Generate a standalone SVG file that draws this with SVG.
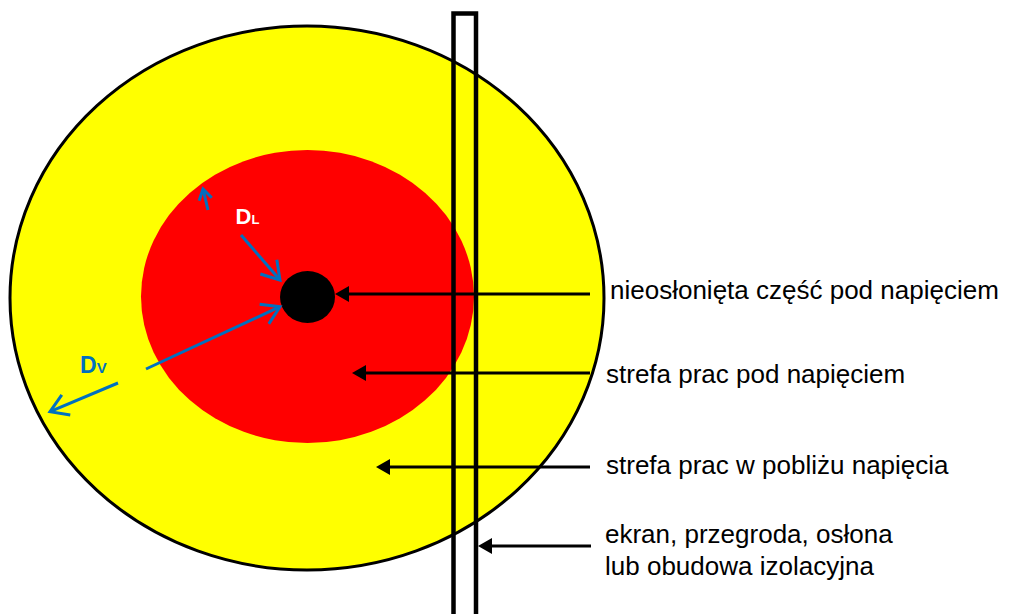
<svg xmlns="http://www.w3.org/2000/svg" width="1009" height="614" viewBox="0 0 1009 614">
  <style>
    .lbl { font-family: "Liberation Sans", Arial, sans-serif; font-size: 26px; fill: #000; }
    .sym { font-family: "Liberation Sans", Arial, sans-serif; font-weight: bold; }
    .blk { stroke: #000; stroke-width: 3; fill: none; marker-end: url(#ahBlack); }
    .blu { stroke: #0070C0; stroke-width: 3; fill: none; marker-end: url(#ahBlue); }
  </style>
  <defs>
    <marker id="ahBlack" markerUnits="userSpaceOnUse" viewBox="0 -8 14 16" markerWidth="14" markerHeight="16" refX="0" refY="0" orient="auto">
      <path d="M0,-8 L14,0 L0,8 Z" fill="#000"/>
    </marker>
    <marker id="ahBlue" markerUnits="userSpaceOnUse" viewBox="-20 -14 26 28" markerWidth="26" markerHeight="28" refX="0" refY="0" orient="auto">
      <path d="M-17.4,-10.9 L0,0 L-17.4,10.9" fill="none" stroke="#0070C0" stroke-width="3"/>
    </marker>
    <marker id="ahBlueSmall" markerUnits="userSpaceOnUse" viewBox="-14 -10 20 20" markerWidth="20" markerHeight="20" refX="0" refY="0" orient="auto">
      <path d="M-10.5,-6.5 L0,0 L-10.5,6.5" fill="none" stroke="#0070C0" stroke-width="3"/>
    </marker>
  </defs>
  <rect x="0" y="0" width="1009" height="614" fill="#fff"/>

  <g id="zone-near-live">
    <ellipse cx="307" cy="298" rx="297" ry="272" fill="#ffff00" stroke="#000" stroke-width="3"/>
  </g>
  <g id="zone-live-working">
    <ellipse cx="307.5" cy="296.5" rx="166.5" ry="146.5" fill="#ff0000"/>
  </g>
  <g id="live-part">
    <ellipse cx="307.5" cy="297" rx="27.5" ry="26" fill="#000"/>
  </g>
  <g id="screen">
    <rect x="453.5" y="13.5" width="22.5" height="640" fill="none" stroke="#000" stroke-width="4.5"/>
  </g>

  <g id="connectors">
    <line class="blk" x1="590" y1="294" x2="349" y2="294"/>
    <line class="blk" x1="590" y1="373" x2="366" y2="373"/>
    <line class="blk" x1="590" y1="467" x2="390" y2="467"/>
    <line class="blk" x1="591" y1="546" x2="492" y2="546"/>
    <line class="blu" x1="241" y1="235" x2="280" y2="280"/>
    <line class="blu" x1="146" y1="369" x2="280" y2="306.7"/>
    <line class="blu" x1="118" y1="383" x2="50" y2="411.7"/>
    <line x1="208" y1="210" x2="203" y2="189" stroke="#0070C0" stroke-width="3" marker-end="url(#ahBlueSmall)"/>
  </g>

  <g id="symbol-DL">
    <text class="sym" x="235.5" y="224.3" font-size="22" fill="#fff">D<tspan font-size="13">L</tspan></text>
  </g>
  <g id="symbol-DV">
    <text class="sym" x="80" y="372.7" font-size="23" fill="#0070C0">D<tspan font-size="15">V</tspan></text>
  </g>

  <g id="label-live-part">
    <text class="lbl" x="610" y="299">nieosłonięta część pod napięciem</text>
  </g>
  <g id="label-live-zone">
    <text class="lbl" x="606" y="383">strefa prac pod napięciem</text>
  </g>
  <g id="label-vicinity-zone">
    <text class="lbl" x="606" y="474">strefa prac w pobliżu napięcia</text>
  </g>
  <g id="label-screen">
    <text class="lbl" x="605" y="543">ekran, przegroda, osłona</text>
    <text class="lbl" x="605" y="575">lub obudowa izolacyjna</text>
  </g>
</svg>
